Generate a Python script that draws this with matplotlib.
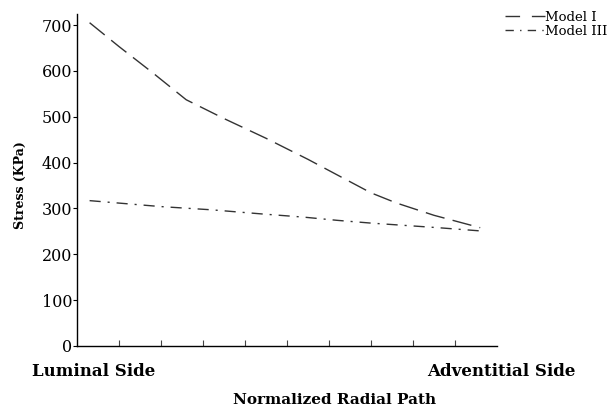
import numpy as np
import matplotlib
matplotlib.use("Agg")
import matplotlib.pyplot as plt
from matplotlib.lines import Line2D

# data (x normalized 0..1 along radial path)
x_model1 = [0.03, 0.10, 0.18, 0.26, 0.35, 0.45, 0.55, 0.63, 0.70, 0.76, 0.85, 0.96]
y_model1 = [705, 653, 596, 537, 496, 453, 407, 368, 334, 312, 285, 258]
x_model3 = [0.03, 0.20, 0.32, 0.44, 0.54, 0.62, 0.70, 0.78, 0.86, 0.96]
y_model3 = [317, 304, 297, 288, 281, 274, 268, 263, 258, 251]
series_names = ["Model I", "Model III"]
y_ticks = [0, 100, 200, 300, 400, 500, 600, 700]
x_ticks = [0.1, 0.2, 0.3, 0.4, 0.5, 0.6, 0.7, 0.8, 0.9]

plt.rcParams['font.family'] = ['DejaVu Serif']

fig = plt.figure(figsize=(6.14, 4.13), dpi=100)
ax = fig.add_axes([77/614, 1-346/413, 420/614, 332/413])

dash1 = (14, 6)
dash3 = (8, 5, 1.5, 5)
ax.plot(x_model1, y_model1, color='#333333', lw=1.0, dashes=dash1)
ax.plot(x_model3, y_model3, color='#333333', lw=1.0, dashes=dash3)

ax.set_xlim(0, 1)
ax.set_ylim(0, 724)
for s in ['top', 'right']:
    ax.spines[s].set_visible(False)
ax.spines['left'].set_linewidth(1.0)
ax.spines['bottom'].set_linewidth(1.0)

ax.set_yticks(y_ticks)
ax.set_yticklabels([str(v) for v in y_ticks], fontsize=11.5)
ax.tick_params(axis='y', direction='out', length=3, width=0.8, pad=0.5)
ax.set_xticks(x_ticks)
ax.set_xticklabels([])
ax.tick_params(axis='x', direction='in', length=4, width=0.8, color='#444444')

# end labels of the radial path
fig.text(94/614, 1-372/413, "Luminal Side", ha='center', va='center',
         fontsize=12, fontweight='bold')
fig.text(501/614, 1-372/413, "Adventitial Side", ha='center', va='center',
         fontsize=12, fontweight='bold')
fig.text(335/614, 1-400/413, "Normalized Radial Path", ha='center', va='center',
         fontsize=11, fontweight='bold')
fig.text(20/614, 1-185/413, "Stress (KPa)", ha='center', va='center',
         rotation=90, fontsize=9, fontweight='bold')

# legend with its own dash patterns, like the reference
handles = [Line2D([], [], color='#333333', lw=1.0, dashes=(10.5, 8.5)),
           Line2D([], [], color='#333333', lw=1.0, dashes=(6, 4.5, 1, 4.5))]
ax.legend(handles, series_names, loc='upper left', bbox_to_anchor=(505/614, 1-11/413),
          bbox_transform=fig.transFigure, frameon=False, fontsize=9.5,
          handlelength=3.0, handletextpad=0.05, labelspacing=0.05,
          borderaxespad=0, borderpad=0)

plt.savefig("out.png", dpi=100)
